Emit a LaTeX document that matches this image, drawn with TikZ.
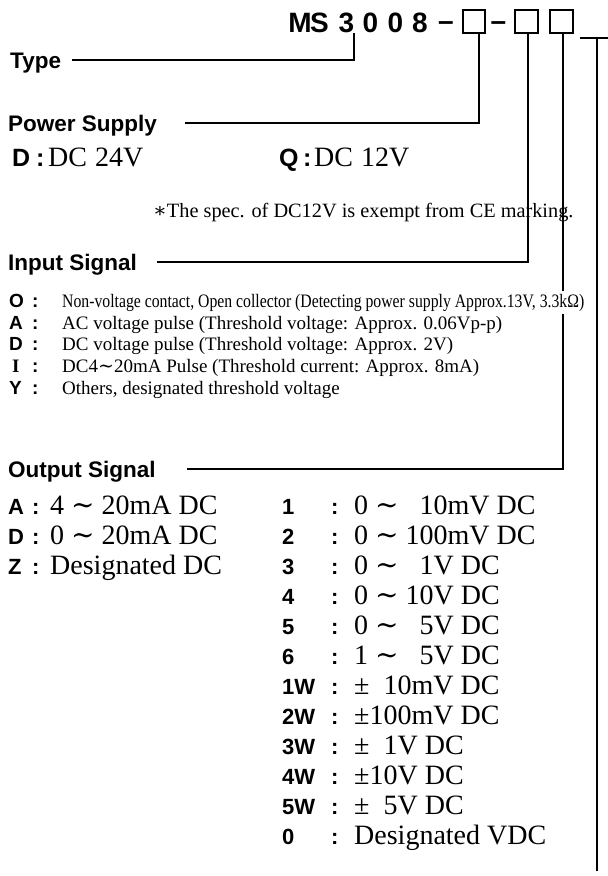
\documentclass[tikz,border=0pt]{standalone}
\usepackage{fontspec}
\usepackage{graphicx}
\setmainfont{Liberation Serif}
\newfontfamily\gothic{Liberation Sans}
\newfontfamily\symf{DejaVu Serif}
\newcommand{\fsz}[1]{\fontsize{#1}{#1}\selectfont}
\newcommand{\wave}{{\symf ∼}}
\begin{document}
\begin{tikzpicture}[x=1pt,y=-1pt,
  every node/.style={inner sep=0pt, anchor=base west},
  head/.style={font=\gothic\bfseries\fsz{22.5}},
  ttl/.style={font=\gothic\bfseries\fsz{28}, anchor=base},
  keyp/.style={font=\gothic\bfseries\fsz{25}},
  keyi/.style={font=\gothic\bfseries\fsz{19}},
  keyo/.style={font=\gothic\bfseries\fsz{22}},
  val/.style={font=\fsz{28}},
  desc/.style={font=\fsz{19}},
  note/.style={font=\fsz{20.3}},
  conn/.style={line width=1.2pt},
  codebox/.style={draw, line width=1.2pt, minimum width=22pt, minimum height=23pt, anchor=center}]
\useasboundingbox (0,0) rectangle (608,876);

% title
\node[ttl] (tM) at (300,32) {M};
\node[ttl] (tS) at (319.5,32) {S};
\node[ttl] (t3) at (346.5,32) {3};
\node[ttl] (t0a) at (370.5,32) {0};
\node[ttl] (t0b) at (395.5,32) {0};
\node[ttl] (t8) at (420,32) {8};
\node[ttl] (dash1) at (446,30) {–};
\node[ttl] (dash2) at (498.5,30) {–};
\node[codebox] (box1) at (474,21.5) {};
\node[codebox, minimum width=23pt] (box2) at (526.5,21.5) {};
\node[codebox, minimum width=23pt] (box3) at (561.5,21.5) {};

% connectors
\coordinate (typeL) at (72,60);
\coordinate (powL) at (185,123);
\coordinate (inL) at (157,262);
\coordinate (outL) at (187,469);
\coordinate (rA) at (580,38);
\coordinate (rB) at (608,38);
\coordinate (rTop) at (597,38);
\coordinate (rEnd) at (597,871);
\draw[conn] (typeL) -| ([xshift=7.5pt]t3.south);
\draw[conn] (powL) -| ([xshift=5pt]box1.south);
\draw[conn] (inL) -| ([xshift=1.5pt]box2.south);
\draw[conn] (outL) -| ([xshift=1.5pt]box3.south);
\draw[conn] (rA) -- (rB);
\draw[conn] (rTop) -- (rEnd);

% Type
\node[head] (type) at (10,68) {Type};

% Power supply
\node[head] (power) at (8,131) {Power Supply};
\node[keyp] (pD) at (12,166) {D};
\node[keyp] (pDc) at (36,166) {:};
\node[val] (pDv) at (48,166) {DC\hspace{8pt}24V};
\node[keyp] (pQ) at (279,166) {Q};
\node[keyp] (pQc) at (303,166) {:};
\node[val] (pQv) at (314,166) {DC\hspace{8pt}12V};
\node[note] (note) at (153,217) {{\symf ∗}The spec. of DC12V is exempt from CE marking.};

% Input signal
\node[head] (input) at (8,270) {Input Signal};
\node[keyi] (iO) at (9,307) {O};
\node[keyi] (iOc) at (32,307) {:};
\node[desc, fill=white, inner xsep=1pt, inner ysep=3pt] (iOv) at (61,307) {\resizebox{522pt}{\height}{Non-voltage contact, Open collector (Detecting power supply Approx.13V, 3.3kΩ)}};
\node[keyi] (iA) at (9,329) {A};
\node[keyi] (iAc) at (32,329) {:};
\node[desc] (iAv) at (62,329) {AC voltage pulse (Threshold voltage: Approx. 0.06Vp-p)};
\node[keyi] (iD) at (9,350) {D};
\node[keyi] (iDc) at (32,350) {:};
\node[desc] (iDv) at (62,350) {DC voltage pulse (Threshold voltage: Approx. 2V)};
\node[keyi, font=\bfseries\fsz{19}] (iI) at (12,372) {I};
\node[keyi] (iIc) at (32,372) {:};
\node[desc] (iIv) at (62,372) {DC4\wave{}20mA Pulse (Threshold current: Approx. 8mA)};
\node[keyi] (iY) at (9,394) {Y};
\node[keyi] (iYc) at (32,394) {:};
\node[desc] (iYv) at (62,394) {Others, designated threshold voltage};

% Output signal
\node[head] (output) at (8,477) {Output Signal};
\node[keyo] (oA) at (8,514) {A};
\node[keyo] (oAc) at (32,514) {:};
\node[val] (oAv) at (50,514) {4 \wave{} 20mA DC};
\node[keyo] (oD) at (8,544) {D};
\node[keyo] (oDc) at (32,544) {:};
\node[val] (oDv) at (50,544) {0 \wave{} 20mA DC};
\node[keyo] (oZ) at (8,574) {Z};
\node[keyo] (oZc) at (32,574) {:};
\node[val] (oZv) at (50,574) {Designated DC};

% right column
\foreach \k/\v [count=\i from 0] in {
  1/0 \wave{} \phantom{0}10mV DC,
  2/0 \wave{} 100mV DC,
  3/0 \wave{} \phantom{0}1V DC,
  4/0 \wave{} 10V DC,
  5/0 \wave{} \phantom{0}5V DC,
  6/1 \wave{} \phantom{0}5V DC,
  1W/±\phantom{0}10mV DC,
  2W/±100mV DC,
  3W/±\phantom{0}1V DC,
  4W/±10V DC,
  5W/±\phantom{0}5V DC,
  0/Designated VDC}{
  \node[keyo] (rk\i) at (282,514+30*\i) {\k};
  \node[keyo] (rc\i) at (331,514+30*\i) {:};
  \node[val] (rv\i) at (354,514+30*\i) {\v};
}
\end{tikzpicture}
\end{document}
